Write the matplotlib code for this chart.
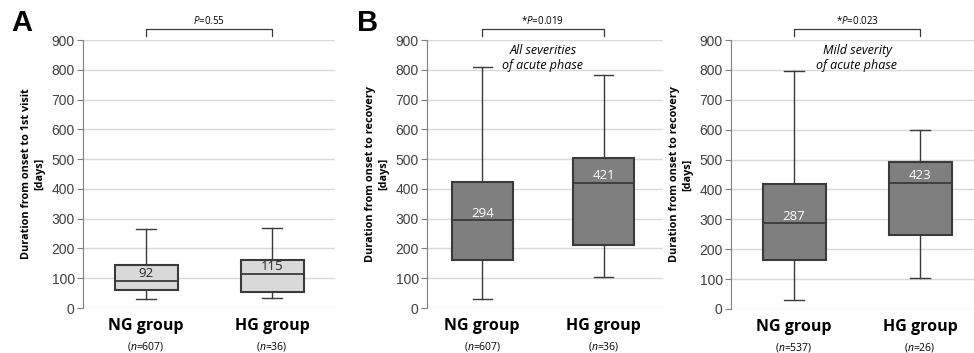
import matplotlib
matplotlib.use("Agg")
import matplotlib.pyplot as plt

plt.rcParams["font.family"] = ["Liberation Sans", "DejaVu Sans"]
plt.rcParams["mathtext.fontset"] = "custom"
plt.rcParams["mathtext.rm"] = "Open Sans"
plt.rcParams["mathtext.it"] = "Open Sans:italic"

groups = ["NG group", "HG group"]

# whisker low, Q1, median, Q3, whisker high
onset_visit = [[30, 60, 92, 143, 265], [33, 55, 115, 160, 268]]
recovery_all = [[30, 160, 294, 423, 810], [103, 213, 421, 505, 782]]
recovery_mild = [[30, 163, 287, 418, 795], [103, 247, 423, 493, 600]]

n_a = [607, 36]
n_b = [607, 36]
n_c = [537, 26]

p_text = ["$\\it{P}$=0.55", "*$\\it{P}$=0.019", "*$\\it{P}$=0.023"]
notes = [None, "All severities\nof acute phase", "Mild severity\nof acute phase"]
ylabels = ["Duration from onset to 1st visit\n[days]",
           "Duration from onset to recovery\n[days]",
           "Duration from onset to recovery\n[days]"]

W, H = 974, 353
fig = plt.figure(figsize=(W / 100, H / 100), dpi=100)


def px_axes(left, right, top, bottom):
    return fig.add_axes([left / W, 1 - bottom / H, (right - left) / W, (bottom - top) / H])


def panel(ax, data, ns, ptxt, note, ylabel, face, label_color, xlim):
    stats = [dict(whislo=d[0], q1=d[1], med=d[2], q3=d[3], whishi=d[4], fliers=[])
             for d in data]
    ax.bxp(stats, positions=[1, 2], widths=0.5, capwidths=0.16, patch_artist=True,
           showfliers=False,
           boxprops=dict(facecolor=face, edgecolor="#3a3a3a", linewidth=1.5),
           medianprops=dict(color="#3a3a3a", linewidth=1.3),
           whiskerprops=dict(color="#3a3a3a", linewidth=1.0),
           capprops=dict(color="#3a3a3a", linewidth=1.0))
    for i, d in enumerate(data):
        ax.annotate(str(d[2]), (i + 1, d[2]), xytext=(0, 0.5), textcoords="offset points",
                    ha="center", va="bottom", fontsize=9.5, color=label_color,
                    family="Open Sans")
    ax.set_ylim(0, 900)
    ax.set_xlim(*xlim)
    ax.set_yticks(range(0, 901, 100))
    ax.yaxis.grid(True, color="#d9d9d9", linewidth=1.0)
    ax.set_axisbelow(True)
    for s in ["top", "right", "bottom"]:
        ax.spines[s].set_visible(False)
    ax.spines["left"].set_color("#7f7f7f")
    ax.tick_params(axis="y", labelsize=10, length=4, color="#7f7f7f", pad=2,
                   labelcolor="#404040")
    ax.tick_params(axis="x", length=0, pad=7)
    ax.set_xticks([1, 2])
    ax.set_xticklabels(groups, fontsize=11.5, fontweight="bold", family="Open Sans")
    ax.set_ylabel(ylabel, fontsize=7.8, fontweight="bold", family="Open Sans", labelpad=4,
                  linespacing=1.3)
    trans = ax.get_xaxis_transform()
    for i, n in enumerate(ns):
        ax.text(i + 1, -0.118, "($\\it{n}$=%d)" % n, transform=trans, ha="center",
                va="top", fontsize=7.5, family="Open Sans")
    # bracket
    ax.plot([1, 1, 2, 2], [1.015, 1.04, 1.04, 1.015], transform=trans, clip_on=False,
            color="#3a3a3a", linewidth=0.9)
    ax.text(1.5, 1.05, ptxt, transform=trans, ha="center", va="bottom", fontsize=7,
            family="Open Sans")
    if note:
        ax.text(1.5, 0.985, note, transform=trans, ha="center", va="top", fontsize=9,
                style="italic", family="Open Sans", linespacing=1.15)


ax_a = px_axes(83, 335, 40, 308)
panel(ax_a, onset_visit, n_a, p_text[0], notes[0], ylabels[0], "#d9d9d9", "#262626",
      (0.5, 2.5))
ax_b = px_axes(427, 663, 40, 308)
panel(ax_b, recovery_all, n_b, p_text[1], notes[1], ylabels[1], "#7f7f7f", "white",
      (0.545, 2.49))
ax_c = px_axes(731, 983, 40, 309)
panel(ax_c, recovery_mild, n_c, p_text[2], notes[2], ylabels[2], "#7f7f7f", "white",
      (0.5, 2.5))

fig.text(11 / W, 1 - 37 / H, "A", fontsize=21, fontweight="bold", va="bottom")
fig.text(357 / W, 1 - 37 / H, "B", fontsize=21, fontweight="bold", va="bottom")

fig.savefig("out.png", dpi=100)
plt.close(fig)
